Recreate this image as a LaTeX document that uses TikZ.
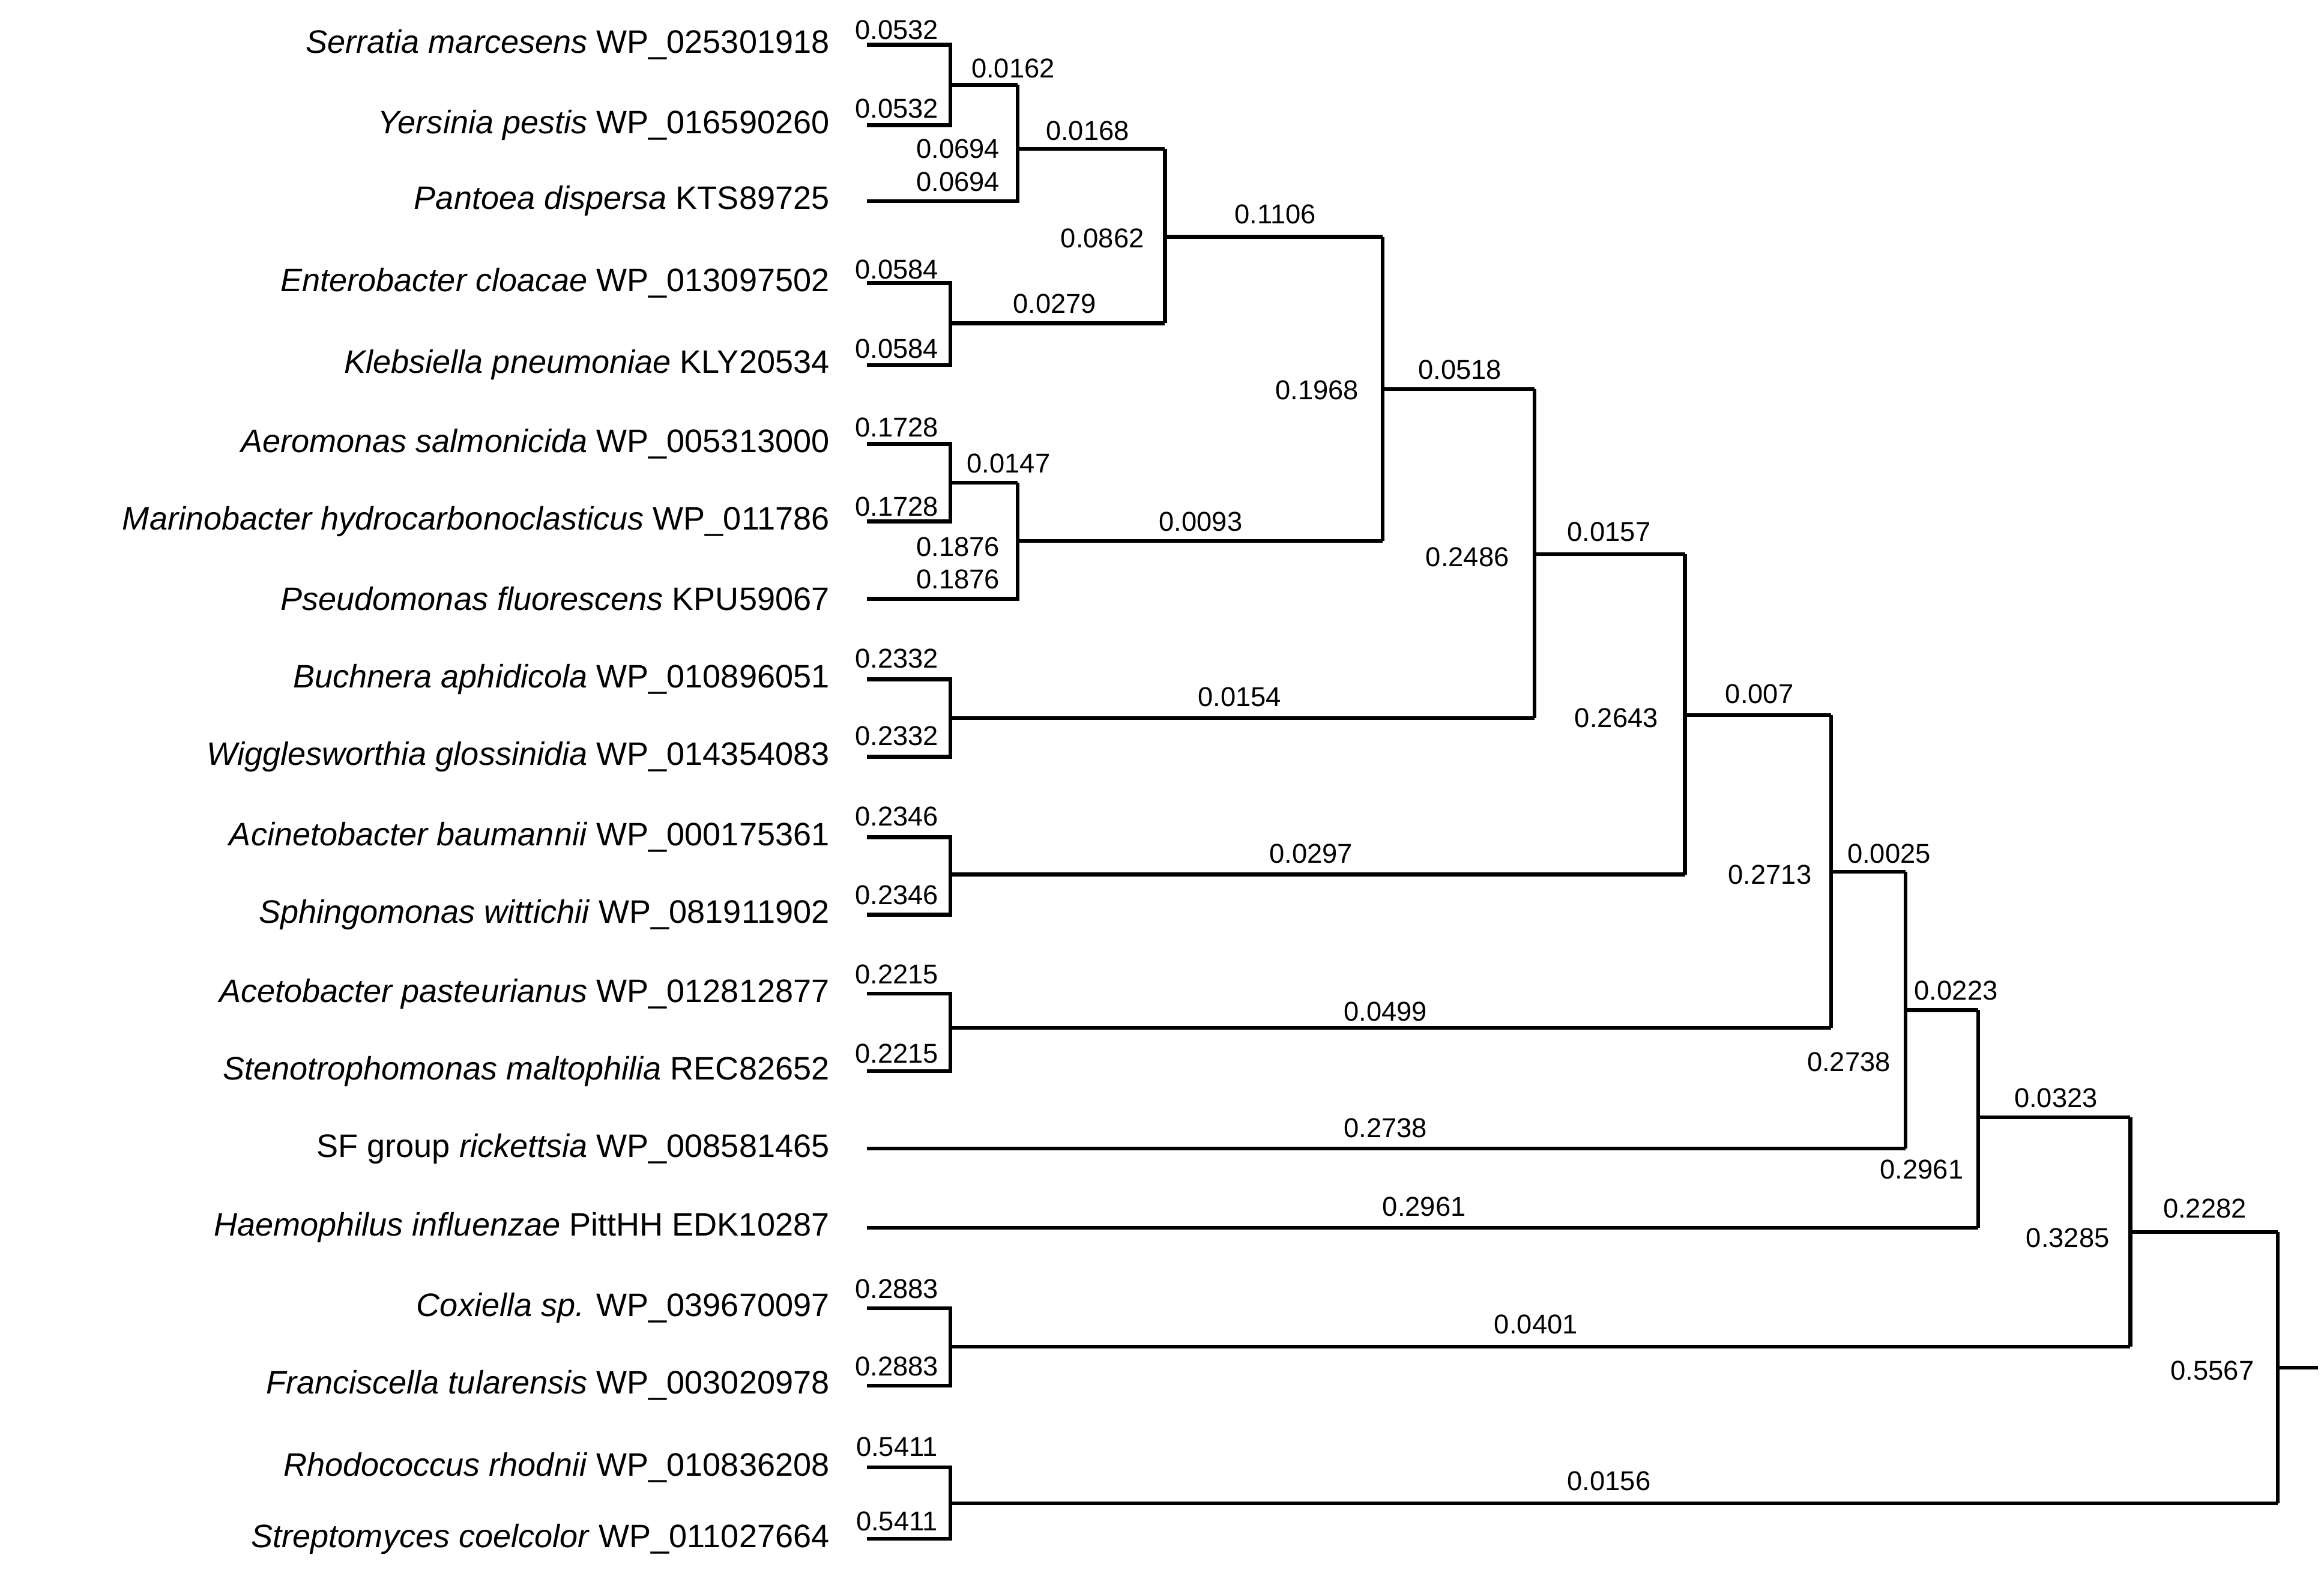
\documentclass[tikz,border=0pt]{standalone}
\usepackage{fontspec}
\setmainfont{Liberation Sans}
\begin{document}
\begin{tikzpicture}[x=0.025cm,y=-0.025cm,
  leaf/.style={anchor=east,inner sep=0pt,font=\fontsize{15.5}{17}\selectfont},
  bl/.style={inner sep=0pt,font=\fontsize{13}{15}\selectfont},
  br/.style={line width=1.8pt}]
\useasboundingbox (0,0) rectangle (1560,1057.5);
% leaves
\foreach \i/\y/\t in {1/30/{\textit{Serratia marcesens} WP\_025301918},
 2/84/{\textit{Yersinia pestis} WP\_016590260},
 3/135/{\textit{Pantoea dispersa} KTS89725},
 4/190/{\textit{Enterobacter cloacae} WP\_013097502},
 5/245/{\textit{Klebsiella pneumoniae} KLY20534},
 6/298/{\textit{Aeromonas salmonicida} WP\_005313000},
 7/350/{\textit{Marinobacter hydrocarbonoclasticus} WP\_011786},
 8/402/{\textit{Pseudomonas fluorescens} KPU59067},
 9/456/{\textit{Buchnera aphidicola} WP\_010896051},
 10/508/{\textit{Wigglesworthia glossinidia} WP\_014354083},
 11/562/{\textit{Acinetobacter baumannii} WP\_000175361},
 12/614/{\textit{Sphingomonas wittichii} WP\_081911902},
 13/667/{\textit{Acetobacter pasteurianus} WP\_012812877},
 14/719/{\textit{Stenotrophomonas maltophilia} REC82652},
 15/771/{SF group \textit{rickettsia} WP\_008581465},
 16/824/{\textit{Haemophilus influenzae} PittHH EDK10287},
 17/878/{\textit{Coxiella sp.} WP\_039670097},
 18/930/{\textit{Franciscella tularensis} WP\_003020978},
 19/985/{\textit{Rhodococcus rhodnii} WP\_010836208},
 20/1033/{\textit{Streptomyces coelcolor} WP\_011027664}}
 {\node[leaf] (n\i) at (557,\y) {\t}; \coordinate (t\i) at (582,\y);}
% internal nodes
\coordinate (a) at (638,57);  \coordinate (b) at (683,100);
\coordinate (c) at (638,217); \coordinate (d) at (782,159);
\coordinate (e) at (638,324); \coordinate (f) at (683,363);
\coordinate (g) at (928,261); \coordinate (h) at (638,482);
\coordinate (i) at (1030,372); \coordinate (j) at (638,587);
\coordinate (k) at (1131,480); \coordinate (l) at (638,690);
\coordinate (m) at (1229,585); \coordinate (n) at (1279,678);
\coordinate (o) at (1328,750); \coordinate (p) at (638,904);
\coordinate (q) at (1430,827); \coordinate (r) at (638,1009);
\coordinate (s) at (1529,918); \coordinate (root) at (1556,918);
\begin{scope}[br]
\draw (t1) -| (a); \draw (t2) -| (a);
\draw (a) -- (a -| b); \draw (t3) -| (b |- a);
\draw (b) -- (b -| d);
\draw (t4) -| (c); \draw (t5) -| (c);
\draw (c) -- (c -| d); \draw (d |- b) -- (d |- c);
\draw (d) -- (d -| g);
\draw (t6) -| (e); \draw (t7) -| (e);
\draw (e) -- (e -| f); \draw (t8) -| (f |- e);
\draw (f) -- (f -| g); \draw (g |- d) -- (g |- f);
\draw (g) -- (g -| i);
\draw (t9) -| (h); \draw (t10) -| (h);
\draw (h) -- (h -| i); \draw (i |- g) -- (i |- h);
\draw (i) -- (i -| k);
\draw (t11) -| (j); \draw (t12) -| (j);
\draw (j) -- (j -| k); \draw (k |- i) -- (k |- j);
\draw (k) -- (k -| m);
\draw (t13) -| (l); \draw (t14) -| (l);
\draw (l) -- (l -| m); \draw (m |- k) -- (m |- l);
\draw (m) -- (m -| n);
\draw (t15) -- (t15 -| n); \draw (n |- m) -- (n |- t15);
\draw (n) -- (n -| o);
\draw (t16) -- (t16 -| o); \draw (o |- n) -- (o |- t16);
\draw (o) -- (o -| q);
\draw (t17) -| (p); \draw (t18) -| (p);
\draw (p) -- (p -| q); \draw (q |- o) -- (q |- p);
\draw (q) -- (q -| s);
\draw (t19) -| (r); \draw (t20) -| (r);
\draw (r) -- (r -| s); \draw (s |- q) -- (s |- r);
\draw (s) -- (root);
\end{scope}
% branch labels
\foreach \x/\y/\t [count=\c] in {
 602/20/0.0532, 602/73/0.0532, 680/46/0.0162, 643/100/0.0694, 643/122/0.0694,
 730/88/0.0168, 740/160/0.0862, 602/181/0.0584, 602/234/0.0584, 708/204/0.0279,
 856/144/0.1106, 884/262/0.1968, 980/248/0.0518,
 602/287/0.1728, 602/340/0.1728, 677/311/0.0147, 643/367/0.1876, 643/389/0.1876,
 806/350/0.0093, 985/374/0.2486, 1080/357/0.0157,
 602/442/0.2332, 602/494/0.2332, 832/468/0.0154, 1085/482/0.2643, 1181/466/0.007,
 602/548/0.2346, 602/601/0.2346, 880/573/0.0297, 1188/587/0.2713, 1268/573/0.0025,
 602/654/0.2215, 602/707/0.2215, 930/679/0.0499, 1241/713/0.2738, 930/757/0.2738,
 1313/665/0.0223, 1290/785/0.2961, 956/810/0.2961, 1380/737/0.0323,
 602/865/0.2883, 602/917/0.2883, 1031/889/0.0401, 1388/831/0.3285, 1480/811/0.2282,
 602/971/0.5411, 602/1021/0.5411, 1080/994/0.0156, 1485/920/0.5567}
 {\node[bl] (bl\c) at (\x,\y) {\t};}
\end{tikzpicture}
\end{document}
